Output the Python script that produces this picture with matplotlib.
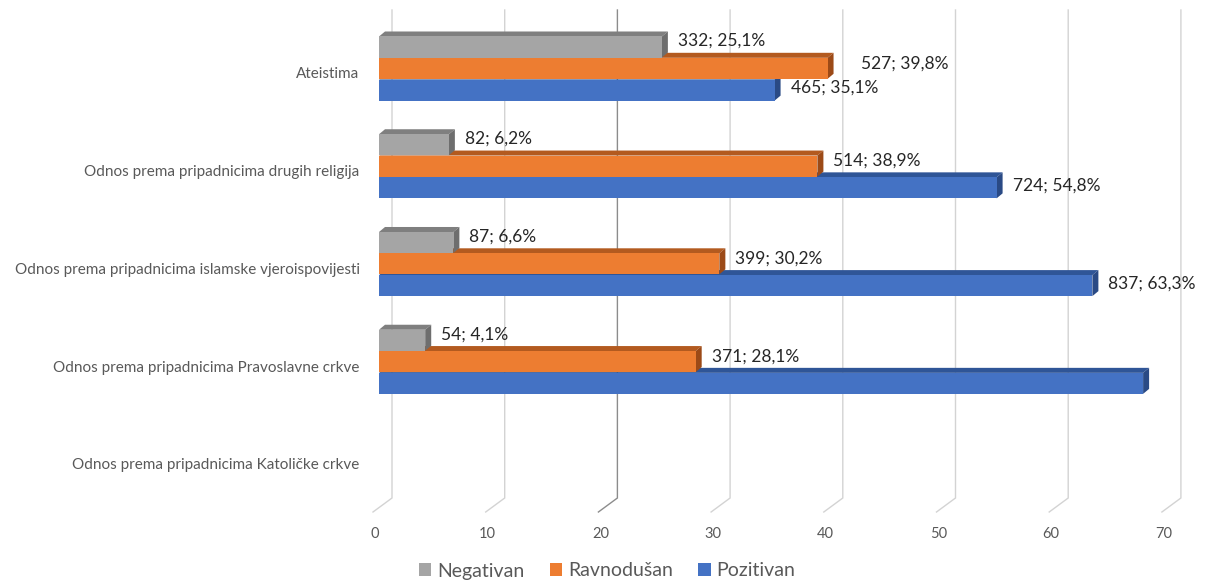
import numpy as np
import matplotlib
matplotlib.use("Agg")
import matplotlib.pyplot as plt
from matplotlib.patches import Polygon, Patch
from matplotlib.transforms import ScaledTranslation

plt.rcParams['font.family'] = ['Lato', 'DejaVu Sans']

# ---------------- data ----------------
categories = [
    "Odnos prema pripadnicima Katoličke crkve",
    "Odnos prema pripadnicima Pravoslavne crkve",
    "Odnos prema pripadnicima islamske vjeroispovijesti",
    "Odnos prema pripadnicima drugih religija",
    "Ateistima",
]
series_names = ["Negativan", "Ravnodušan", "Pozitivan"]

negativan_pct = [np.nan, 4.1, 6.6, 6.2, 25.1]
ravnodusan_pct = [np.nan, 28.1, 30.2, 38.9, 39.8]
pozitivan_pct = [np.nan, 67.8, 63.3, 54.8, 35.1]

negativan_n = [None, 54, 87, 82, 332]
ravnodusan_n = [None, 371, 399, 514, 527]
pozitivan_n = [None, None, 837, 724, 465]

x_ticks = [0, 10, 20, 30, 40, 50, 60, 70]

# ---------------- styling ----------------
front_cols = ["#A5A5A5", "#ED7D31", "#4472C4"]
top_cols = ["#7F7F7F", "#B35A1F", "#2F5597"]
side_cols = ["#6E6E6E", "#9C4A17", "#2A4A85"]
txt_grey = "#595959"

W, H = 1206, 586
fig = plt.figure(figsize=(W / 100, H / 100), dpi=100)
ax_left, ax_right = 379, 379 + 70 * 11.27
ax_top, ax_bot = 10, 512
ax = fig.add_axes([ax_left / W, (H - ax_bot) / H, (ax_right - ax_left) / W, (ax_bot - ax_top) / H])
ax.set_xlim(0, 70)
ypx = 97.75
ax.set_ylim((464 - ax_bot) / ypx, (464 - ax_top) / ypx)
xpx = 11.27

for s in ax.spines.values():
    s.set_visible(False)

# gridlines (back wall + floor)
y_wall_bot = (464 - 498) / ypx
y_floor = ax.get_ylim()[0]
y_top = ax.get_ylim()[1]
for v in x_ticks:
    xb = v + 13 / xpx
    xf = v - 6 / xpx
    col = "#8C8C8C" if v == 20 else "#D3D3D3"
    ax.plot([xb, xb, xf], [y_top, y_wall_bot, y_floor], color=col, lw=1.0,
            clip_on=False, zorder=0.5, solid_joinstyle='miter')

# bars
heights = 0.215
offsets = [0.266, 0.048, -0.175]
dx = 6 / xpx
dy = 5 / ypx
all_pct = [negativan_pct, ravnodusan_pct, pozitivan_pct]
all_n = [negativan_n, ravnodusan_n, pozitivan_n]
ypos = np.arange(len(categories))

# draw from bottom series (Pozitivan) up to top series (Negativan)
for si in [2, 1, 0]:
    vals = np.array(all_pct[si], dtype=float)
    yy = ypos + offsets[si]
    z = 2 + (2 - si)
    bars = ax.barh(yy, np.nan_to_num(vals), height=heights, color=front_cols[si],
                   edgecolor='none', zorder=z)
    for k, (b, v) in enumerate(zip(bars, vals)):
        if np.isnan(v):
            b.set_visible(False)
            continue
        y0 = b.get_y()
        y1 = y0 + b.get_height()
        x1 = b.get_width()
        top = Polygon([[0, y1], [x1, y1], [x1 + dx, y1 + dy], [dx, y1 + dy]],
                      closed=True, facecolor=top_cols[si], edgecolor='none', zorder=z - 0.1)
        side = Polygon([[x1, y0], [x1, y1], [x1 + dx, y1 + dy], [x1 + dx, y0 + dy]],
                       closed=True, facecolor=side_cols[si], edgecolor='none', zorder=z - 0.05)
        ax.add_patch(top)
        ax.add_patch(side)
        n = all_n[si][k]
        if n is not None:
            label = f"{n}; {v:.1f}%".replace('.', ',')
            xoff = 16
            if si == 1 and k == 4:
                xoff = 33
            yoff = [6, 5, 2][si]
            ax.annotate(label, xy=(x1, (y0 + y1) / 2), xytext=(xoff, yoff),
                        textcoords='offset pixels', ha='left', va='center',
                        fontsize=12.5, color="#262626", zorder=10, annotation_clip=False)

# axes ticks
ax.set_yticks(ypos)
ax.set_yticklabels(categories, fontsize=11, color=txt_grey)
ax.tick_params(axis='y', length=0, pad=14)
ax.set_xticks(x_ticks)
ax.set_xticklabels([str(t) for t in x_ticks], fontsize=10.5, color=txt_grey)
ax.tick_params(axis='x', length=0, pad=11)
for lbl in ax.get_xticklabels():
    lbl.set_transform(lbl.get_transform() + ScaledTranslation(-4 / 100, 0, fig.dpi_scale_trans))

# legend
handles = [Patch(facecolor=c, edgecolor='none') for c in front_cols]
leg = fig.legend(handles, series_names, loc='center', bbox_to_anchor=(607 / W, (H - 571) / H),
                 ncol=3, frameon=False, fontsize=14, handlelength=0.65, handleheight=0.65,
                 handletextpad=0.3, columnspacing=1.3)
for t in leg.get_texts():
    t.set_color(txt_grey)

fig.savefig("out.png", dpi=100)
